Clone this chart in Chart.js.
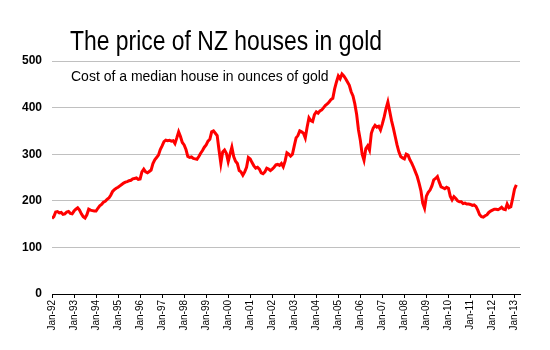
<!DOCTYPE html>
<html>
<head>
<meta charset="utf-8">
<script src="https://cdn.jsdelivr.net/npm/chart.js@4"></script>
<style>
  html, body { margin: 0; padding: 0; background: #fff; }
  #wrap { width: 550px; height: 350px; position: relative; }
</style>
</head>
<body>
<div id="wrap"><canvas id="c" width="550" height="350"></canvas></div>
<script>
const titleText = "The price of NZ houses in gold";
const subtitleText = "Cost of a median house in ounces of gold";
const tickLabels = ["Jan-92","Jan-93","Jan-94","Jan-95","Jan-96","Jan-97","Jan-98","Jan-99","Jan-00","Jan-01","Jan-02","Jan-03","Jan-04","Jan-05","Jan-06","Jan-07","Jan-08","Jan-09","Jan-10","Jan-11","Jan-12","Jan-13"];
const yTicks = [0, 100, 200, 300, 400, 500];
// Monthly values, Jan-1992 onward (ounces of gold per median house)
const values = [
  162,166,176,177,174,175,171,172,176,177,173,172,   // 1992
  178,182,185,180,172,166,163,170,182,180,179,178,   // 1993
  178,184,189,192,197,199,203,206,212,220,224,227,   // 1994
  229,232,235,238,240,241,243,244,247,248,249,246,   // 1995
  247,262,268,262,260,263,266,280,288,293,298,310,   // 1996
  318,327,330,329,330,328,329,323,335,348,338,325,   // 1997
  320,310,295,293,294,291,290,289,295,302,308,315,   // 1998
  320,328,332,348,350,345,340,309,280,305,309,302,   // 1999
  284,300,315,295,285,280,265,262,255,262,272,293,   // 2000
  290,282,275,270,272,268,260,258,262,270,268,265,   // 2001
  268,272,277,278,276,280,273,285,303,300,296,300,   // 2002
  318,335,340,350,348,345,335,358,378,372,370,385,   // 2003
  391,388,393,395,400,405,408,412,417,420,440,455,   // 2004
  468,462,472,468,462,455,448,434,425,408,385,352,   // 2005
  330,300,287,312,318,309,345,356,362,358,360,352,   // 2006
  365,380,398,412,392,372,356,338,320,305,295,292,   // 2007
  290,300,298,288,281,272,262,252,238,222,195,184,   // 2008
  210,218,223,232,245,248,252,240,230,228,226,229,   // 2009
  227,210,202,209,205,200,198,198,194,195,193,193,   // 2010
  192,190,191,188,180,170,166,165,168,170,175,178,   // 2011
  180,182,182,181,183,186,182,181,193,185,187,205,   // 2012
  225,234                                             // 2013
];
const xMax = 255;

const textPlugin = {
  id: 'texts',
  afterDraw(chart) {
    const ctx = chart.ctx;
    ctx.save();
    ctx.fillStyle = '#000';
    ctx.textAlign = 'left';
    ctx.textBaseline = 'alphabetic';
    ctx.font = '28px "Liberation Sans", Arial, sans-serif';
    const w = ctx.measureText(titleText).width;
    const sx = 312 / w;
    ctx.translate(70, 50);
    ctx.scale(sx, 1);
    ctx.fillText(titleText, 0, 0);
    ctx.restore();
    ctx.save();
    ctx.fillStyle = '#000';
    ctx.font = '14px "Liberation Sans", Arial, sans-serif';
    ctx.fillText(subtitleText, 71, 81);
    ctx.restore();
  }
};

new Chart(document.getElementById('c'), {
  type: 'line',
  data: {
    datasets: [{
      data: values.map((v, i) => ({ x: i, y: v })),
      borderColor: '#ff0000',
      borderWidth: 3,
      pointRadius: 0,
      tension: 0,
      fill: false
    }]
  },
  options: {
    responsive: false,
    animation: false,
    layout: { padding: { top: 61, right: 30, left: 0, bottom: 0 } },
    plugins: { legend: { display: false }, tooltip: { enabled: false }, title: { display: false } },
    scales: {
      x: {
        type: 'linear',
        min: 0,
        max: xMax,
        afterBuildTicks(scale) {
          scale.ticks = tickLabels.map((_, i) => ({ value: i * 12 }));
        },
        afterFit(scale) { scale.height = 56; },
        ticks: {
          autoSkip: false,
          minRotation: 90,
          maxRotation: 90,
          padding: 2,
          color: '#000',
          font: { family: '"Liberation Sans", Arial, sans-serif', size: 10 },
          callback: (v) => tickLabels[Math.round(v / 12)]
        },
        grid: { drawOnChartArea: false, drawTicks: true, tickLength: 4, color: '#000' },
        border: { display: true, color: '#000', width: 1 }
      },
      y: {
        min: 0,
        max: 500,
        afterBuildTicks(scale) {
          scale.ticks = yTicks.map(v => ({ value: v }));
        },
        afterFit(scale) { scale.width = 52; },
        ticks: {
          padding: 10,
          color: '#000',
          font: { family: '"Liberation Sans", Arial, sans-serif', size: 12, weight: 'bold' }
        },
        grid: { color: '#c0c0c0', drawTicks: false, lineWidth: 1 },
        border: { display: false }
      }
    }
  },
  plugins: [textPlugin]
});
</script>
</body>
</html>
